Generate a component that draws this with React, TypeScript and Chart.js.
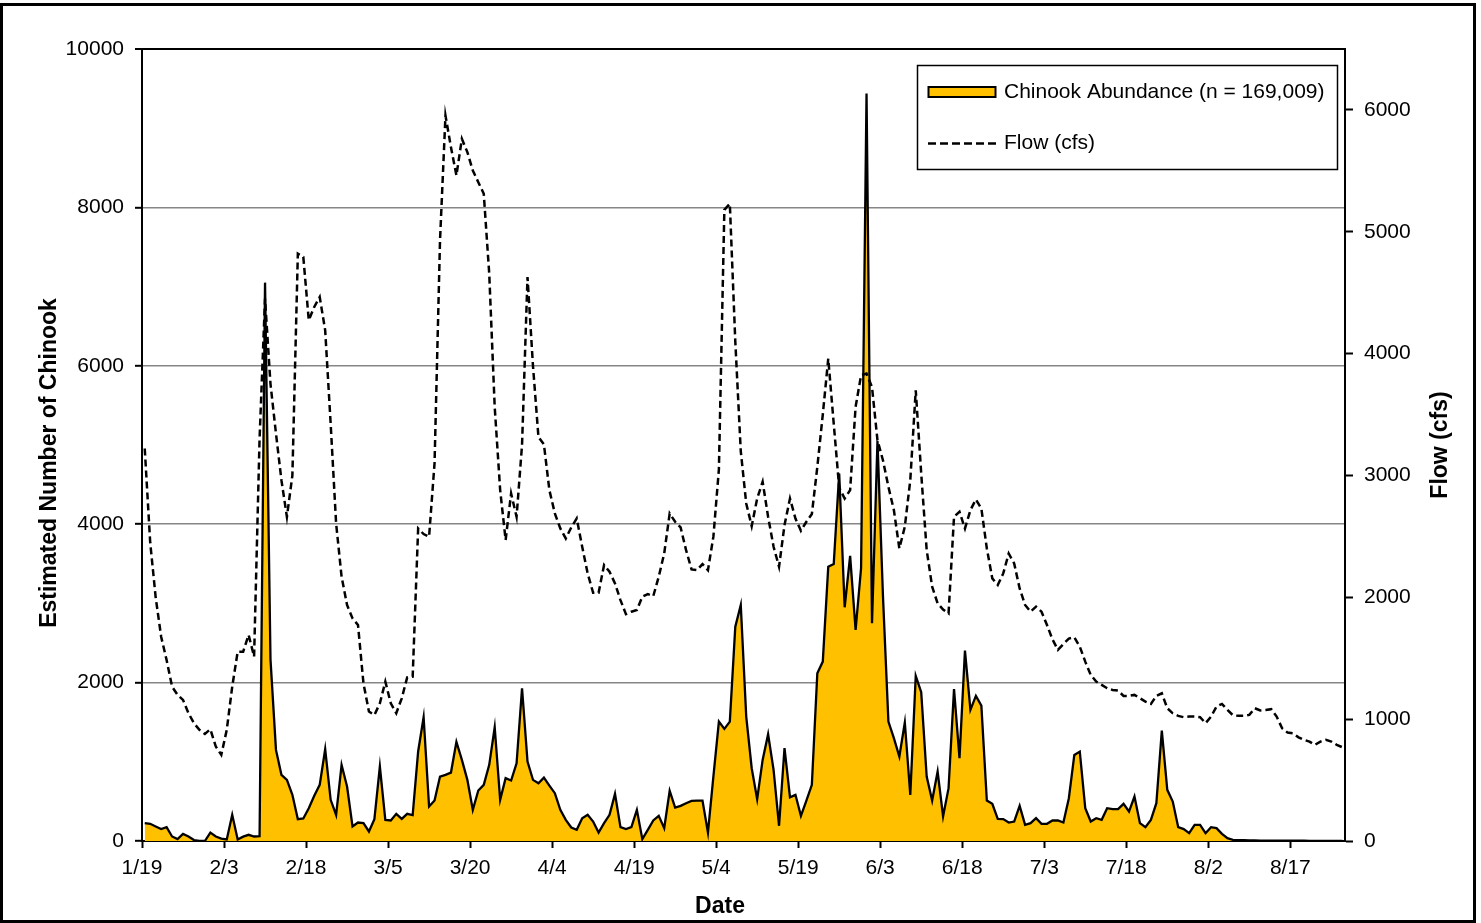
import React, { useEffect, useRef } from "react";
import { Chart, registerables } from "chart.js";

Chart.register(...registerables);

// Daily estimated Chinook abundance, starting 1/19 (one value per day)
const abundance: number[] = [
  225, 217, 183, 150, 175, 57, 24, 90, 57, 12,
  0, 0, 107, 57, 30, 20, 330, 20, 55, 78,
  57, 60, 7050, 2290, 1150, 835, 772, 583, 276, 284,
  414, 570, 709, 1159, 520, 330, 961, 688, 183, 233,
  225, 120, 276, 940, 267, 259, 343, 280, 343, 326,
  1130, 1563, 435, 511, 814, 835, 864, 1251, 1024, 772,
  393, 637, 709, 961, 1436, 520, 793, 764, 982, 1929,
  1003, 772, 730, 800, 700, 604, 393, 267, 170, 141,
  288, 330, 246, 107, 225, 330, 595, 175, 150, 175,
  393, 24, 141, 259, 318, 162, 633, 423, 444, 477,
  507, 511, 511, 107, 820, 1508, 1416, 1508, 2707, 2980,
  1571, 919, 528, 1024, 1348, 898, 192, 1172, 553, 583,
  318, 511, 709, 2118, 2265, 3464, 3498, 4641, 2951, 3599,
  2665, 3443, 9437, 2749, 5050, 3100, 1508, 1298, 1067, 1496,
  583, 2085, 1879, 814, 511, 877, 310, 667, 1917, 1046,
  2404, 1656, 1832, 1710, 511, 469, 280, 276, 233, 246,
  444, 204, 225, 288, 217, 217, 259, 259, 233, 540,
  1087, 1129, 414, 246, 288, 267, 414, 402, 402, 469,
  372, 562, 225, 175, 267, 477, 1394, 646, 498, 175,
  150, 99, 204, 204, 99, 175, 162, 90, 35, 15,
  10, 10, 8, 8, 5, 5, 5, 5, 5, 3,
  3, 3, 3, 2, 2, 0, 0, 0, 0, 0,
];

// Daily flow (cfs), same days
const flow: number[] = [
  3221, 2450, 2000, 1677, 1485, 1267, 1199, 1158, 1049, 967,
  912, 879, 917, 775, 707, 912, 1267, 1554, 1554, 1691,
  1513, 3300, 4450, 3750, 3344, 2961, 2660, 3000, 4820, 4793,
  4274, 4383, 4465, 4191, 3426, 2606, 2169, 1937, 1827, 1773,
  1294, 1062, 1034, 1130, 1308, 1130, 1049, 1171, 1343, 1349,
  2565, 2519, 2497, 3100, 4929, 5954, 5694, 5462, 5763, 5654,
  5503, 5407, 5312, 4656, 3563, 2880, 2470, 2852, 2661, 3250,
  4629, 3900, 3316, 3255, 2880, 2688, 2565, 2483, 2573, 2647,
  2415, 2196, 2037, 2037, 2265, 2210, 2114, 1977, 1862, 1882,
  1896, 2005, 2026, 2010, 2169, 2360, 2688, 2620, 2573, 2387,
  2229, 2223, 2273, 2223, 2500, 3050, 5180, 5230, 4100, 3200,
  2770, 2584, 2811, 2948, 2661, 2415, 2251, 2593, 2811, 2647,
  2546, 2620, 2683, 3070, 3500, 3959, 3426, 2900, 2811, 2880,
  3563, 3822, 3836, 3726, 3289, 3125, 2907, 2716, 2401, 2579,
  2961, 3699, 3016, 2387, 2087, 1950, 1900, 1868, 2661, 2702,
  2565, 2716, 2803, 2729, 2401, 2155, 2101, 2196, 2360, 2278,
  2073, 1937, 1882, 1923, 1882, 1773, 1655, 1568, 1617, 1661,
  1672, 1595, 1472, 1363, 1308, 1281, 1254, 1240, 1234, 1191,
  1191, 1199, 1172, 1144, 1125, 1191, 1212, 1090, 1048, 1027,
  1016, 1021, 1021, 1016, 967, 1021, 1103, 1125, 1076, 1032,
  1027, 1027, 1035, 1090, 1071, 1076, 1082, 1021, 925, 890,
  884, 851, 830, 816, 789, 816, 830, 816, 789, 770,
];

// x-axis tick labels (every 15 days from 1/19)
const tickLabels: string[] = [
  "1/19", "2/3", "2/18", "3/5", "3/20", "4/4", "4/19", "5/4",
  "5/19", "6/3", "6/18", "7/3", "7/18", "8/2", "8/17",
];
const tickDays: number[] = [0, 15, 30, 45, 60, 75, 90, 105, 120, 135, 150, 165, 180, 195, 210];
const abundanceTicks: number[] = [0, 2000, 4000, 6000, 8000, 10000];
const flowTicks: number[] = [0, 1000, 2000, 3000, 4000, 5000, 6000];

const seriesNames: string[] = ["Chinook Abundance (n = 169,009)", "Flow (cfs)"];
const axisTitles: string[] = ["Estimated Number of Chinook", "Flow (cfs)", "Date"];

const FONT = '"Liberation Sans", Arial, Helvetica, sans-serif';
const W = 1481;
const H = 923;
const DASH = [7, 4];

const decorPlugin = {
  id: "decor",
  beforeDraw(chart: any) {
    const ctx = chart.ctx;
    ctx.save();
    ctx.fillStyle = "#ffffff";
    ctx.fillRect(0, 0, chart.width, chart.height);
    ctx.restore();
  },
  afterDraw(chart: any) {
    const ctx = chart.ctx;
    ctx.save();
    // axis titles
    ctx.fillStyle = "#000";
    ctx.font = `bold 23px ${FONT}`;
    ctx.textAlign = "center";
    ctx.textBaseline = "middle";
    ctx.save();
    ctx.translate(50, 463);
    ctx.rotate(-Math.PI / 2);
    ctx.fillText(axisTitles[0], 0, 0);
    ctx.restore();
    ctx.save();
    ctx.translate(1441, 445);
    ctx.rotate(-Math.PI / 2);
    ctx.fillText(axisTitles[1], 0, 0);
    ctx.restore();
    ctx.fillText(axisTitles[2], 720, 907);

    // legend box
    const lx = 917.5, ly = 65.5, lw = 420, lh = 104;
    ctx.fillStyle = "#fff";
    ctx.fillRect(lx, ly, lw, lh);
    ctx.strokeStyle = "#000";
    ctx.lineWidth = 1.5;
    ctx.strokeRect(lx, ly, lw, lh);
    // abundance swatch
    ctx.fillStyle = "#FFC000";
    ctx.fillRect(928.5, 87, 67, 10);
    ctx.lineWidth = 2;
    ctx.strokeRect(928.5, 87, 67, 10);
    // flow swatch
    ctx.beginPath();
    ctx.setLineDash([8, 4]);
    ctx.lineWidth = 2.5;
    ctx.moveTo(928, 143.5);
    ctx.lineTo(996, 143.5);
    ctx.stroke();
    ctx.setLineDash([]);
    ctx.fillStyle = "#000";
    ctx.font = `21px ${FONT}`;
    ctx.textAlign = "left";
    ctx.fillText(seriesNames[0], 1004, 92);
    ctx.fillText(seriesNames[1], 1004, 143);

    // outer frame
    ctx.strokeStyle = "#000";
    ctx.lineWidth = 3;
    ctx.strokeRect(1.5, 4.5, 1473, 917);
    ctx.restore();
  },
};

export default function App() {
  const ref = useRef<HTMLCanvasElement | null>(null);

  useEffect(() => {
    if (!ref.current) return;
    const tickFont = { family: FONT, size: 21 };
    const chart = new Chart(ref.current, {
      type: "line",
      data: {
        datasets: [
          {
            label: seriesNames[0],
            data: abundance.map((v, i) => ({ x: i + 0.5, y: v })),
            yAxisID: "y",
            borderColor: "#000",
            borderWidth: 2.3,
            backgroundColor: "#FFC000",
            fill: "origin",
            pointRadius: 0,
            tension: 0,
            order: 1,
          },
          {
            label: seriesNames[1],
            data: flow.map((v, i) => ({ x: i + 0.5, y: v })),
            yAxisID: "y1",
            borderColor: "#000",
            borderWidth: 2.5,
            borderDash: DASH,
            fill: false,
            pointRadius: 0,
            tension: 0,
            order: 0,
          },
        ],
      },
      options: {
        animation: false,
        responsive: false,
        maintainAspectRatio: false,
        layout: { padding: { top: 49, left: 0, right: 0, bottom: 0 } },
        plugins: { legend: { display: false }, tooltip: { enabled: false } },
        scales: {
          x: {
            type: "linear",
            min: 0,
            max: 220,
            afterBuildTicks: (s: any) => {
              s.ticks = tickDays.map((v) => ({ value: v }));
            },
            afterFit: (s: any) => {
              s.height = H - 841;
            },
            ticks: {
              callback: (v: any) => {
                const k = tickDays.indexOf(Number(v));
                return k >= 0 ? tickLabels[k] : "";
              },
              font: tickFont,
              color: "#000",
              padding: 8,
              maxRotation: 0,
              autoSkip: false,
            },
            grid: { drawOnChartArea: false, tickLength: 7, tickColor: "#000", tickWidth: 2 },
            border: { color: "#000", width: 2 },
          },
          y: {
            position: "left",
            min: 0,
            max: 10000,
            afterBuildTicks: (s: any) => {
              s.ticks = abundanceTicks.map((v) => ({ value: v }));
            },
            afterFit: (s: any) => {
              s.width = 142;
            },
            ticks: {
              callback: (v: any) => String(v),
              font: tickFont,
              color: "#000",
              padding: 11,
            },
            grid: {
              color: (c: any) => (c.tick && c.tick.value === 10000 ? "#000" : "#868686"),
              lineWidth: (c: any) => (c.tick && c.tick.value === 10000 ? 2 : 1.6),
              tickLength: 7,
              tickColor: "#000",
              tickWidth: 2,
            },
            border: { color: "#000", width: 2 },
          },
          y1: {
            position: "right",
            min: 0,
            max: 6500,
            afterBuildTicks: (s: any) => {
              s.ticks = flowTicks.map((v) => ({ value: v }));
            },
            afterFit: (s: any) => {
              s.width = W - 1345;
            },
            ticks: {
              callback: (v: any) => String(v),
              font: tickFont,
              color: "#000",
              padding: 11,
            },
            grid: { drawOnChartArea: false, tickLength: 8, tickColor: "#000", tickWidth: 2 },
            border: { color: "#000", width: 2 },
          },
        },
      } as any,
      plugins: [decorPlugin],
    });
    return () => chart.destroy();
  }, []);

  return (
    <div style={{ position: "fixed", left: 0, top: 0, width: W, height: H, background: "#fff" }}>
      <canvas ref={ref} width={W} height={H} style={{ display: "block", width: W, height: H }} />
    </div>
  );
}
